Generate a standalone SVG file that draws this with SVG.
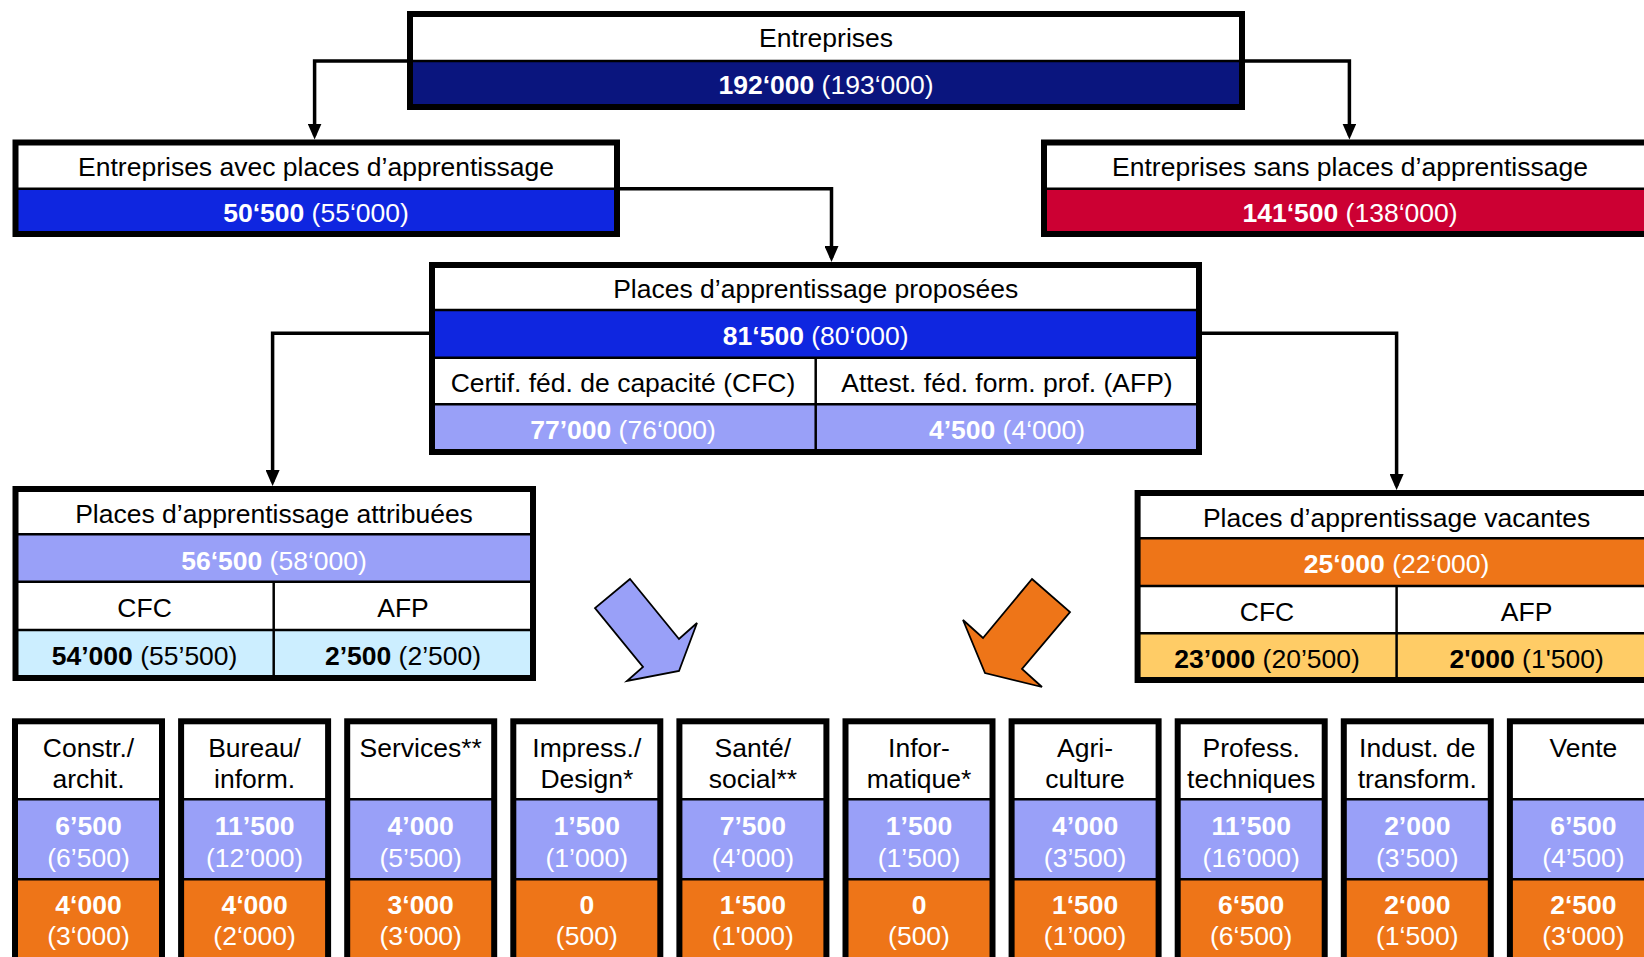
<svg xmlns="http://www.w3.org/2000/svg" width="1644" height="957" viewBox="0 0 1644 957">
<style>
.bx{fill:none;stroke:#000;stroke-width:6}
.dv{stroke:#000;stroke-width:2.5}
.t{font-family:"Liberation Sans",Arial,sans-serif;font-size:26.5px;text-anchor:middle}
.w{fill:#fff}
.k{fill:#000}
.b{font-weight:bold}
.cn{fill:none;stroke:#000;stroke-width:3.5}
.navy{fill:#0A157E}
.blue{fill:#0F26E0}
.red{fill:#CC0033}
.lp{fill:#99A0F8}
.cy{fill:#CCEEFF}
.or{fill:#EE7518}
.lo{fill:#FFCC66}
.wh{fill:#fff}
</style>
<defs>
<marker id="ah" markerUnits="userSpaceOnUse" markerWidth="16" markerHeight="14" refX="12" refY="7" orient="auto">
<path d="M0,0 L16,7 L0,14 z" fill="#000"/>
</marker>
</defs>
<rect width="1644" height="957" fill="#fff"/>

<g id="connectors">
<path class="cn" d="M407,61 H314.6 V135.5" marker-end="url(#ah)"/>
<path class="cn" d="M1245,61 H1349.4 V135.5" marker-end="url(#ah)"/>
<path class="cn" d="M619,188.7 H831.5 V258" marker-end="url(#ah)"/>
<path class="cn" d="M429,333.3 H272.6 V482" marker-end="url(#ah)"/>
<path class="cn" d="M1202,333.3 H1396.6 V486" marker-end="url(#ah)"/>
</g>

<g id="entreprises">
<rect class="wh" x="410" y="14" width="832" height="47"/>
<rect class="navy" x="410" y="61" width="832" height="46"/>
<line class="dv" x1="410" y1="61" x2="1242" y2="61"/>
<rect class="bx" x="410" y="14" width="832" height="93"/>
<text class="t k" x="826" y="47">Entreprises</text>
<text class="t w" x="826" y="94"><tspan class="b">192‘000</tspan> (193‘000)</text>
</g>

<g id="avec">
<rect class="wh" x="15.5" y="142.5" width="601.5" height="46.2"/>
<rect class="blue" x="15.5" y="188.7" width="601.5" height="45.3"/>
<line class="dv" x1="15.5" y1="188.7" x2="617" y2="188.7"/>
<rect class="bx" x="15.5" y="142.5" width="601.5" height="91.5"/>
<text class="t k" x="316" y="176">Entreprises avec places d’apprentissage</text>
<text class="t w" x="316" y="222"><tspan class="b">50‘500</tspan> (55‘000)</text>
</g>

<g id="sans">
<rect class="wh" x="1044" y="142.5" width="700" height="46.2"/>
<rect class="red" x="1044" y="188.7" width="700" height="45.3"/>
<line class="dv" x1="1044" y1="188.7" x2="1744" y2="188.7"/>
<rect class="bx" x="1044" y="142.5" width="700" height="91.5"/>
<text class="t k" x="1350" y="176">Entreprises sans places d’apprentissage</text>
<text class="t w" x="1350" y="222"><tspan class="b">141‘500</tspan> (138‘000)</text>
</g>

<g id="proposees">
<rect class="wh" x="432" y="265" width="767" height="45"/>
<rect class="blue" x="432" y="310" width="767" height="47.7"/>
<rect class="wh" x="432" y="357.7" width="767" height="46.6"/>
<rect class="lp" x="432" y="404.3" width="767" height="47.7"/>
<line class="dv" x1="432" y1="310" x2="1199" y2="310"/>
<line class="dv" x1="432" y1="357.7" x2="1199" y2="357.7"/>
<line class="dv" x1="432" y1="404.3" x2="1199" y2="404.3"/>
<line class="dv" x1="815.7" y1="357.7" x2="815.7" y2="452"/>
<rect class="bx" x="432" y="265" width="767" height="187"/>
<text class="t k" x="815.7" y="298">Places d’apprentissage proposées</text>
<text class="t w" x="815.7" y="345"><tspan class="b">81‘500</tspan> (80‘000)</text>
<text class="t k" x="623" y="392">Certif. féd. de capacité (CFC)</text>
<text class="t k" x="1007" y="392">Attest. féd. form. prof. (AFP)</text>
<text class="t w" x="623" y="439"><tspan class="b">77’000</tspan> (76‘000)</text>
<text class="t w" x="1007" y="439"><tspan class="b">4’500</tspan> (4‘000)</text>
</g>

<g id="attribuees">
<rect class="wh" x="15.5" y="489" width="517.5" height="45.3"/>
<rect class="lp" x="15.5" y="534.3" width="517.5" height="47.4"/>
<rect class="wh" x="15.5" y="581.7" width="517.5" height="48.3"/>
<rect class="cy" x="15.5" y="630" width="517.5" height="48"/>
<line class="dv" x1="15.5" y1="534.3" x2="533" y2="534.3"/>
<line class="dv" x1="15.5" y1="581.7" x2="533" y2="581.7"/>
<line class="dv" x1="15.5" y1="630" x2="533" y2="630"/>
<line class="dv" x1="273.7" y1="581.7" x2="273.7" y2="678"/>
<rect class="bx" x="15.5" y="489" width="517.5" height="189"/>
<text class="t k" x="274" y="523">Places d’apprentissage attribuées</text>
<text class="t w" x="274" y="569.5"><tspan class="b">56‘500</tspan> (58‘000)</text>
<text class="t k" x="144.6" y="617">CFC</text>
<text class="t k" x="403" y="617">AFP</text>
<text class="t k" x="144.6" y="665"><tspan class="b">54’000</tspan> (55’500)</text>
<text class="t k" x="403" y="665"><tspan class="b">2’500</tspan> (2’500)</text>
</g>

<g id="vacantes">
<rect class="wh" x="1137.6" y="493" width="602" height="45.3"/>
<rect class="or" x="1137.6" y="538.3" width="602" height="47.7"/>
<rect class="wh" x="1137.6" y="586" width="602" height="47.3"/>
<rect class="lo" x="1137.6" y="633.3" width="602" height="46.7"/>
<line class="dv" x1="1137.6" y1="538.3" x2="1739.6" y2="538.3"/>
<line class="dv" x1="1137.6" y1="586" x2="1739.6" y2="586"/>
<line class="dv" x1="1137.6" y1="633.3" x2="1739.6" y2="633.3"/>
<line class="dv" x1="1396.6" y1="586" x2="1396.6" y2="680"/>
<rect class="bx" x="1137.6" y="493" width="602" height="187"/>
<text class="t k" x="1396.6" y="526.5">Places d’apprentissage vacantes</text>
<text class="t w" x="1396.6" y="573"><tspan class="b">25‘000</tspan> (22‘000)</text>
<text class="t k" x="1267" y="620.5">CFC</text>
<text class="t k" x="1526.6" y="620.5">AFP</text>
<text class="t k" x="1267" y="667.5"><tspan class="b">23’000</tspan> (20’500)</text>
<text class="t k" x="1526.6" y="667.5"><tspan class="b">2'000</tspan> (1'500)</text>
</g>

<g id="arrow-blue">
<polygon points="630,579 595,608 643,667 627,681 679,671 697,623 679,639" fill="#99A0F8" stroke="#000" stroke-width="1.8" stroke-linejoin="miter"/>
</g>
<g id="arrow-orange">
<polygon points="1032,579 1070,612 1022,669 1042,687 985,673 963,620 983,638" fill="#EE7518" stroke="#000" stroke-width="1.8" stroke-linejoin="miter"/>
</g>

<g id="col-constr">
<rect class="wh" x="15" y="721.3" width="147" height="78"/>
<rect class="lp" x="15" y="799.3" width="147" height="80"/>
<rect class="or" x="15" y="879.3" width="147" height="90"/>
<line class="dv" x1="15" y1="799.3" x2="162" y2="799.3"/>
<line class="dv" x1="15" y1="879.3" x2="162" y2="879.3"/>
<rect class="bx" x="15" y="721.3" width="147" height="250"/>
<text class="t k" x="88.5" y="756.5">Constr./</text>
<text class="t k" x="88.5" y="788">archit.</text>
<text class="t w b" x="88.5" y="835">6’500</text>
<text class="t w" x="88.5" y="866.6">(6’500)</text>
<text class="t w b" x="88.5" y="914">4‘000</text>
<text class="t w" x="88.5" y="945">(3‘000)</text>
</g>

<g id="col-bureau">
<rect class="wh" x="181.1" y="721.3" width="147" height="78"/>
<rect class="lp" x="181.1" y="799.3" width="147" height="80"/>
<rect class="or" x="181.1" y="879.3" width="147" height="90"/>
<line class="dv" x1="181.1" y1="799.3" x2="328.1" y2="799.3"/>
<line class="dv" x1="181.1" y1="879.3" x2="328.1" y2="879.3"/>
<rect class="bx" x="181.1" y="721.3" width="147" height="250"/>
<text class="t k" x="254.6" y="756.5">Bureau/</text>
<text class="t k" x="254.6" y="788">inform.</text>
<text class="t w b" x="254.6" y="835">11’500</text>
<text class="t w" x="254.6" y="866.6">(12’000)</text>
<text class="t w b" x="254.6" y="914">4‘000</text>
<text class="t w" x="254.6" y="945">(2‘000)</text>
</g>

<g id="col-services">
<rect class="wh" x="347.2" y="721.3" width="147" height="78"/>
<rect class="lp" x="347.2" y="799.3" width="147" height="80"/>
<rect class="or" x="347.2" y="879.3" width="147" height="90"/>
<line class="dv" x1="347.2" y1="799.3" x2="494.2" y2="799.3"/>
<line class="dv" x1="347.2" y1="879.3" x2="494.2" y2="879.3"/>
<rect class="bx" x="347.2" y="721.3" width="147" height="250"/>
<text class="t k" x="420.7" y="756.5">Services**</text>
<text class="t w b" x="420.7" y="835">4’000</text>
<text class="t w" x="420.7" y="866.6">(5’500)</text>
<text class="t w b" x="420.7" y="914">3‘000</text>
<text class="t w" x="420.7" y="945">(3‘000)</text>
</g>

<g id="col-impress">
<rect class="wh" x="513.3" y="721.3" width="147" height="78"/>
<rect class="lp" x="513.3" y="799.3" width="147" height="80"/>
<rect class="or" x="513.3" y="879.3" width="147" height="90"/>
<line class="dv" x1="513.3" y1="799.3" x2="660.3" y2="799.3"/>
<line class="dv" x1="513.3" y1="879.3" x2="660.3" y2="879.3"/>
<rect class="bx" x="513.3" y="721.3" width="147" height="250"/>
<text class="t k" x="586.8" y="756.5">Impress./</text>
<text class="t k" x="586.8" y="788">Design*</text>
<text class="t w b" x="586.8" y="835">1’500</text>
<text class="t w" x="586.8" y="866.6">(1’000)</text>
<text class="t w b" x="586.8" y="914">0</text>
<text class="t w" x="586.8" y="945">(500)</text>
</g>

<g id="col-sante">
<rect class="wh" x="679.4" y="721.3" width="147" height="78"/>
<rect class="lp" x="679.4" y="799.3" width="147" height="80"/>
<rect class="or" x="679.4" y="879.3" width="147" height="90"/>
<line class="dv" x1="679.4" y1="799.3" x2="826.4" y2="799.3"/>
<line class="dv" x1="679.4" y1="879.3" x2="826.4" y2="879.3"/>
<rect class="bx" x="679.4" y="721.3" width="147" height="250"/>
<text class="t k" x="752.9" y="756.5">Santé/</text>
<text class="t k" x="752.9" y="788">social**</text>
<text class="t w b" x="752.9" y="835">7’500</text>
<text class="t w" x="752.9" y="866.6">(4’000)</text>
<text class="t w b" x="752.9" y="914">1‘500</text>
<text class="t w" x="752.9" y="945">(1'000)</text>
</g>

<g id="col-informatique">
<rect class="wh" x="845.5" y="721.3" width="147" height="78"/>
<rect class="lp" x="845.5" y="799.3" width="147" height="80"/>
<rect class="or" x="845.5" y="879.3" width="147" height="90"/>
<line class="dv" x1="845.5" y1="799.3" x2="992.5" y2="799.3"/>
<line class="dv" x1="845.5" y1="879.3" x2="992.5" y2="879.3"/>
<rect class="bx" x="845.5" y="721.3" width="147" height="250"/>
<text class="t k" x="919" y="756.5">Infor-</text>
<text class="t k" x="919" y="788">matique*</text>
<text class="t w b" x="919" y="835">1’500</text>
<text class="t w" x="919" y="866.6">(1’500)</text>
<text class="t w b" x="919" y="914">0</text>
<text class="t w" x="919" y="945">(500)</text>
</g>

<g id="col-agriculture">
<rect class="wh" x="1011.6" y="721.3" width="147" height="78"/>
<rect class="lp" x="1011.6" y="799.3" width="147" height="80"/>
<rect class="or" x="1011.6" y="879.3" width="147" height="90"/>
<line class="dv" x1="1011.6" y1="799.3" x2="1158.6" y2="799.3"/>
<line class="dv" x1="1011.6" y1="879.3" x2="1158.6" y2="879.3"/>
<rect class="bx" x="1011.6" y="721.3" width="147" height="250"/>
<text class="t k" x="1085.1" y="756.5">Agri-</text>
<text class="t k" x="1085.1" y="788">culture</text>
<text class="t w b" x="1085.1" y="835">4’000</text>
<text class="t w" x="1085.1" y="866.6">(3’500)</text>
<text class="t w b" x="1085.1" y="914">1‘500</text>
<text class="t w" x="1085.1" y="945">(1’000)</text>
</g>

<g id="col-techniques">
<rect class="wh" x="1177.7" y="721.3" width="147" height="78"/>
<rect class="lp" x="1177.7" y="799.3" width="147" height="80"/>
<rect class="or" x="1177.7" y="879.3" width="147" height="90"/>
<line class="dv" x1="1177.7" y1="799.3" x2="1324.7" y2="799.3"/>
<line class="dv" x1="1177.7" y1="879.3" x2="1324.7" y2="879.3"/>
<rect class="bx" x="1177.7" y="721.3" width="147" height="250"/>
<text class="t k" x="1251.2" y="756.5">Profess.</text>
<text class="t k" x="1251.2" y="788">techniques</text>
<text class="t w b" x="1251.2" y="835">11’500</text>
<text class="t w" x="1251.2" y="866.6">(16’000)</text>
<text class="t w b" x="1251.2" y="914">6‘500</text>
<text class="t w" x="1251.2" y="945">(6‘500)</text>
</g>

<g id="col-indust">
<rect class="wh" x="1343.8" y="721.3" width="147" height="78"/>
<rect class="lp" x="1343.8" y="799.3" width="147" height="80"/>
<rect class="or" x="1343.8" y="879.3" width="147" height="90"/>
<line class="dv" x1="1343.8" y1="799.3" x2="1490.8" y2="799.3"/>
<line class="dv" x1="1343.8" y1="879.3" x2="1490.8" y2="879.3"/>
<rect class="bx" x="1343.8" y="721.3" width="147" height="250"/>
<text class="t k" x="1417.3" y="756.5">Indust. de</text>
<text class="t k" x="1417.3" y="788">transform.</text>
<text class="t w b" x="1417.3" y="835">2’000</text>
<text class="t w" x="1417.3" y="866.6">(3’500)</text>
<text class="t w b" x="1417.3" y="914">2‘000</text>
<text class="t w" x="1417.3" y="945">(1‘500)</text>
</g>

<g id="col-vente">
<rect class="wh" x="1509.9" y="721.3" width="147" height="78"/>
<rect class="lp" x="1509.9" y="799.3" width="147" height="80"/>
<rect class="or" x="1509.9" y="879.3" width="147" height="90"/>
<line class="dv" x1="1509.9" y1="799.3" x2="1656.9" y2="799.3"/>
<line class="dv" x1="1509.9" y1="879.3" x2="1656.9" y2="879.3"/>
<rect class="bx" x="1509.9" y="721.3" width="147" height="250"/>
<text class="t k" x="1583.4" y="756.5">Vente</text>
<text class="t w b" x="1583.4" y="835">6’500</text>
<text class="t w" x="1583.4" y="866.6">(4’500)</text>
<text class="t w b" x="1583.4" y="914">2‘500</text>
<text class="t w" x="1583.4" y="945">(3‘000)</text>
</g>
</svg>
